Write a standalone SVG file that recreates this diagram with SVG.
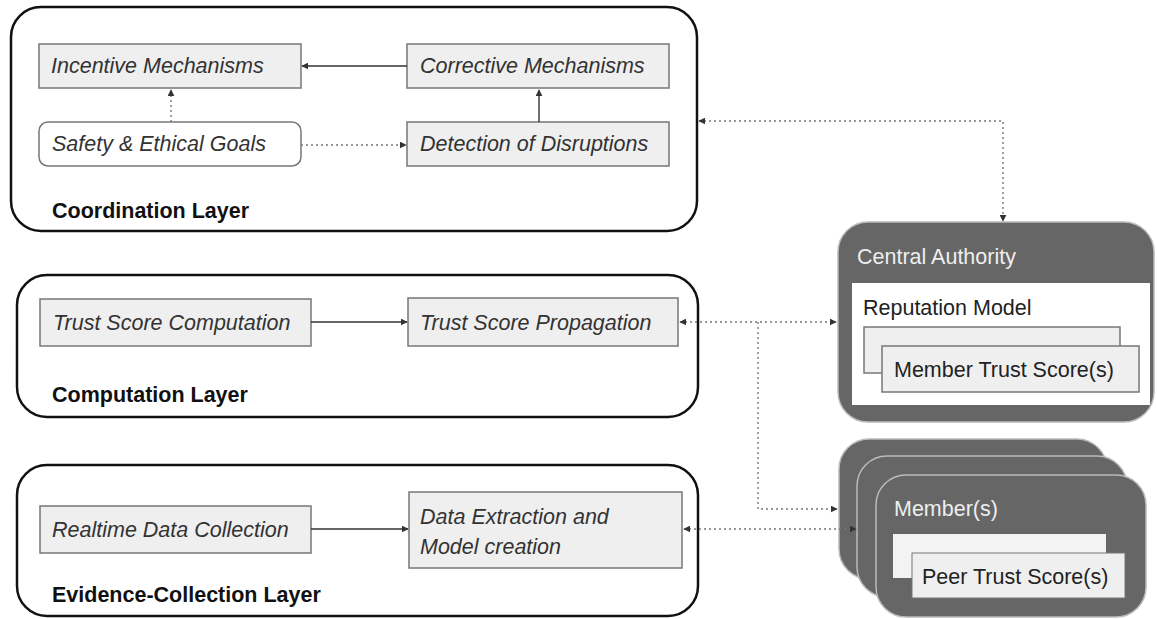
<svg xmlns="http://www.w3.org/2000/svg" width="1157" height="619" viewBox="0 0 1157 619">
<style>
.layer{fill:#fff;stroke:#111;stroke-width:2.5}
.node{fill:#efefef;stroke:#777;stroke-width:1.5}
.goal{fill:#fff;stroke:#777;stroke-width:1.5}
.it{font-family:"Liberation Sans",Arial,sans-serif;font-style:italic;font-size:21.5px;fill:#333}
.lbl{font-family:"Liberation Sans",Arial,sans-serif;font-weight:bold;font-size:21.5px;fill:#111}
.dark{fill:#666;stroke:#bbb;stroke-width:1.5}
.wt{font-family:"Liberation Sans",Arial,sans-serif;font-size:21.5px;fill:#eee}
.bt{font-family:"Liberation Sans",Arial,sans-serif;font-size:21.5px;fill:#222}
.solid{fill:none;stroke:#333;stroke-width:1.4}
.dot{fill:none;stroke:#777;stroke-width:1.4;stroke-dasharray:2 3}
</style>
<defs>
<marker id="ah" viewBox="0 0 10 10" refX="9" refY="5" markerWidth="5" markerHeight="5" orient="auto-start-reverse">
<path d="M0,0 L10,5 L0,10 z" fill="#333"/>
</marker>
</defs>

<g id="coordination-layer">
<rect class="layer" x="11" y="7" width="686" height="224" rx="30"/>
<text class="lbl" x="52" y="218">Coordination Layer</text>
</g>
<g id="incentive">
<rect class="node" x="39" y="44" width="262" height="44"/>
<text class="it" x="51" y="73">Incentive Mechanisms</text>
</g>
<g id="corrective">
<rect class="node" x="407" y="44" width="262" height="44"/>
<text class="it" x="420" y="73">Corrective Mechanisms</text>
</g>
<g id="safety">
<rect class="goal" x="39" y="122" width="262" height="44" rx="9"/>
<text class="it" x="52" y="151">Safety &amp; Ethical Goals</text>
</g>
<g id="detection">
<rect class="node" x="407" y="122" width="262" height="44"/>
<text class="it" x="420" y="151">Detection of Disruptions</text>
</g>

<g id="computation-layer">
<rect class="layer" x="17" y="275" width="681" height="142" rx="30"/>
<text class="lbl" x="52" y="402">Computation Layer</text>
</g>
<g id="trust-computation">
<rect class="node" x="40" y="299" width="271" height="47"/>
<text class="it" x="53" y="330">Trust Score Computation</text>
</g>
<g id="trust-propagation">
<rect class="node" x="408" y="298" width="270" height="48"/>
<text class="it" x="420" y="330">Trust Score Propagation</text>
</g>

<g id="evidence-layer">
<rect class="layer" x="17" y="465" width="681" height="151" rx="30"/>
<text class="lbl" x="52" y="602">Evidence-Collection Layer</text>
</g>
<g id="realtime">
<rect class="node" x="40" y="506" width="271" height="47"/>
<text class="it" x="52" y="537">Realtime Data Collection</text>
</g>
<g id="extraction">
<rect class="node" x="409" y="492" width="273" height="76"/>
<text class="it" x="420" y="524">Data Extraction and</text>
<text class="it" x="420" y="554">Model creation</text>
</g>

<g id="central-authority">
<rect class="dark" x="838" y="222" width="316" height="200" rx="30"/>
<text class="wt" x="857" y="264">Central Authority</text>
<rect x="852" y="283" width="298" height="122" fill="#fff"/>
<text class="bt" x="863" y="315">Reputation Model</text>
<rect class="node" x="864" y="327" width="256" height="46"/>
<rect class="node" x="882" y="346" width="257" height="46"/>
<text class="bt" x="894" y="377">Member Trust Score(s)</text>
</g>

<g id="members">
<rect class="dark" x="839" y="439" width="268" height="140" rx="30"/>
<rect class="dark" x="857" y="456" width="270" height="141" rx="30"/>
<rect class="dark" x="876" y="475" width="270" height="142" rx="30"/>
<text class="wt" x="894" y="516">Member(s)</text>
<rect x="893" y="534" width="213" height="44" fill="#f3f3f3"/>
<rect x="912" y="553" width="213" height="45" fill="#efefef" stroke="#777" stroke-width="1"/>
<text class="bt" x="922" y="584">Peer Trust Score(s)</text>
</g>

<g id="connectors">
<path class="solid" d="M407,66 L302,66" marker-end="url(#ah)"/>
<path class="dot" d="M171,122 L171,90" marker-end="url(#ah)"/>
<path class="dot" d="M301,145 L406,145" marker-end="url(#ah)"/>
<path class="solid" d="M539,122 L539,90" marker-end="url(#ah)"/>
<path class="solid" d="M311,322 L407,322" marker-end="url(#ah)"/>
<path class="solid" d="M311,529 L408,529" marker-end="url(#ah)"/>
<path class="dot" d="M699,121 L1003,121 L1003,221" marker-start="url(#ah)" marker-end="url(#ah)"/>
<path class="dot" d="M680,322 L836,322" marker-start="url(#ah)" marker-end="url(#ah)"/>
<path class="dot" d="M758,322 L758,509 L837,509" marker-end="url(#ah)"/>
<path class="dot" d="M684,529 L856,529" marker-start="url(#ah)" marker-end="url(#ah)"/>
</g>
</svg>
